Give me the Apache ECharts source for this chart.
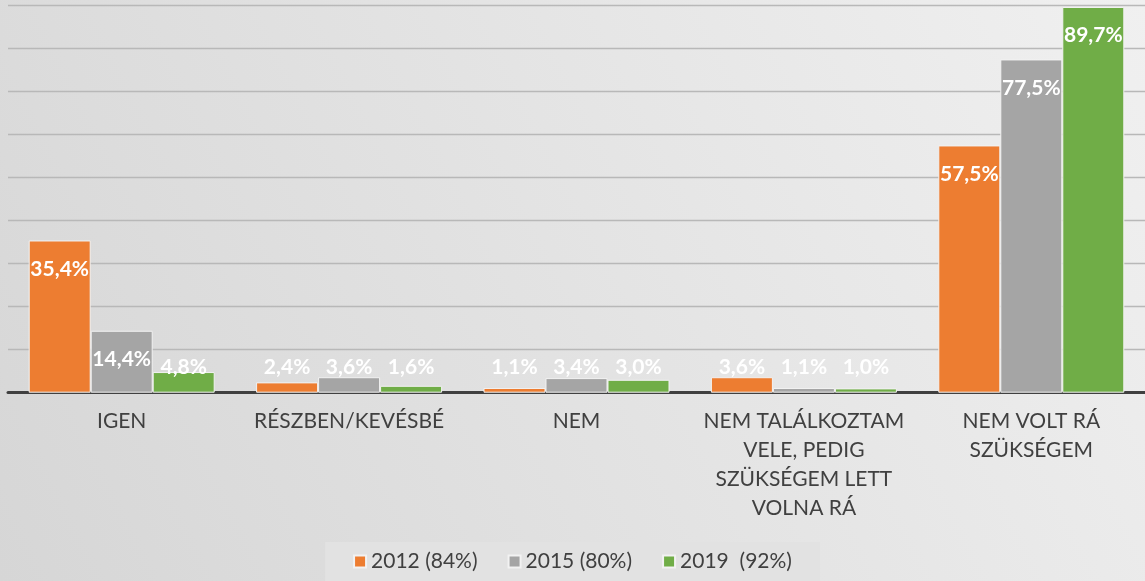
<!DOCTYPE html>
<html>
<head>
<meta charset="utf-8">
<script src="https://cdn.jsdelivr.net/npm/echarts@6/dist/echarts.min.js"></script>
<style>
  html, body { margin: 0; padding: 0; }
  #chart { width: 1145px; height: 581px; }
</style>
</head>
<body>
<div id="chart"></div>
<script>
  // kategóriák és évenkénti értékek (%)
  const categories = [
    'IGEN',
    'RÉSZBEN/KEVÉSBÉ',
    'NEM',
    'NEM TALÁLKOZTAM\nVELE, PEDIG\nSZÜKSÉGEM LETT\nVOLNA RÁ',
    'NEM VOLT RÁ\nSZÜKSÉGEM'
  ]
  const seriesNames = ['2012 (84%)', '2015 (80%)', '2019  (92%)']
  const values2012 = [35.4, 2.4, 1.1, 3.6, 57.5]
  const values2015 = [14.4, 3.6, 3.4, 1.1, 77.5]
  const values2019 = [4.8, 1.6, 3.0, 1.0, 89.7]
  const colors = ['#ED7D31', '#A5A5A5', '#70AD47']

  const chart = echarts.init(document.getElementById('chart'))

  function fmt(v) {
    return v.toFixed(1).replace('.', ',') + '%'
  }

  function buildSeries(name, list, index) {
    return {
      name: name,
      type: 'bar',
      barWidth: 62,
      barGap: '0%',
      itemStyle: {
        color: colors[index],
        borderColor: '#f2f2f2',
        borderWidth: 1
      },
      data: list.map(function (v) {
        let big = v >= 10
        return {
          value: v,
          label: {
            show: true,
            position: big ? 'insideTop' : 'insideBottom',
            distance: big ? 18 : 15,
            formatter: function (p) { return fmt(p.value) },
            color: '#ffffff',
            fontFamily: 'Lato',
            fontWeight: 'bold',
            fontSize: 21
          }
        }
      })
    }
  }

  const option = {
    backgroundColor: {
      type: 'linear', x: 0, y: 1, x2: 1, y2: 0,
      colorStops: [
        { offset: 0, color: '#d6d6d6' },
        { offset: 1, color: '#f0f0f0' }
      ]
    },
    animation: false,
    grid: {
      left: 8,
      right: -9,
      top: 5.7,
      bottom: 188.3,
      containLabel: false
    },
    legend: {
      data: seriesNames,
      bottom: 0,
      left: 'center',
      itemWidth: 12,
      itemHeight: 12,
      itemGap: 30,
      padding: [9, 28, 9, 28],
      backgroundColor: '#e2e2e2',
      icon: 'rect',
      textStyle: {
        color: '#404040',
        fontFamily: 'Lato',
        fontSize: 21
      }
    },
    xAxis: {
      type: 'category',
      data: categories,
      axisTick: { show: false },
      axisLine: { lineStyle: { color: '#404040', width: 3 } },
      axisLabel: {
        interval: 0,
        margin: 14,
        color: '#404040',
        fontFamily: 'Lato',
        fontSize: 21,
        lineHeight: 29,
        align: 'center'
      }
    },
    yAxis: {
      type: 'value',
      min: 0,
      max: 90,
      interval: 10,
      axisLabel: { show: false },
      axisLine: { show: false },
      axisTick: { show: false },
      splitLine: { lineStyle: { color: '#b8b8b8', width: 1.3 } }
    },
    series: [
      buildSeries(seriesNames[0], values2012, 0),
      buildSeries(seriesNames[1], values2015, 1),
      buildSeries(seriesNames[2], values2019, 2)
    ]
  }

  chart.setOption(option)
</script>
</body>
</html>
